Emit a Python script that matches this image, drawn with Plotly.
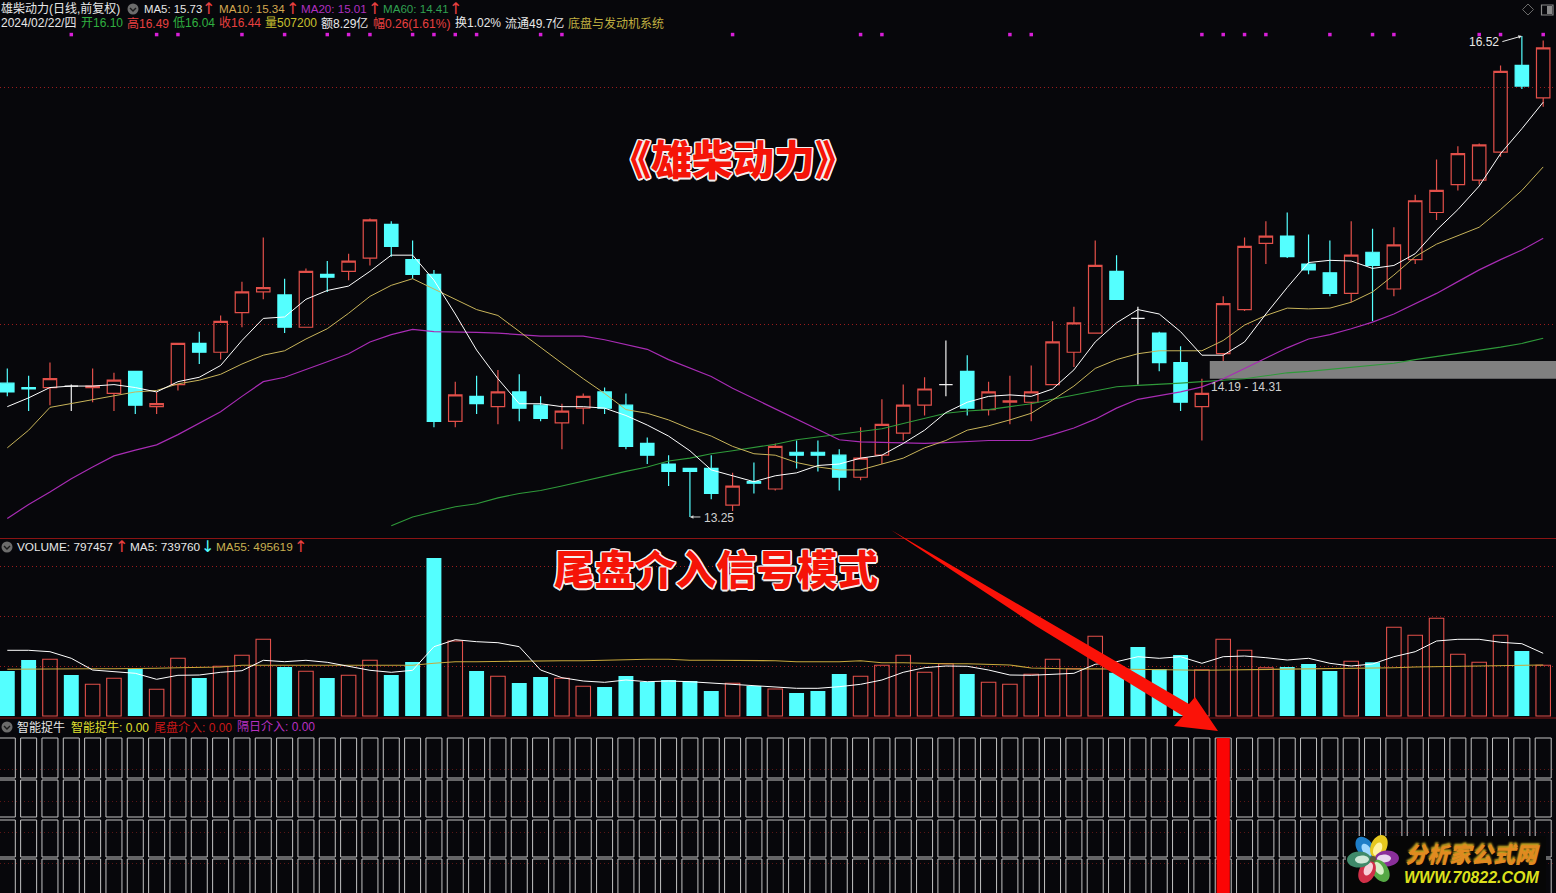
import math
import plotly.graph_objects as go

W, H = 1556, 893
BG = "#07070b"
RED = "#e2504a"
CYAN = "#54ffff"
FONT = "Liberation Sans, Noto Sans CJK SC"
CJK = "Noto Sans CJK SC"

opens = [14.16,14.13,14.13,14.14,14.13,14.09,14.24,14.00,14.15,14.43,14.37,14.64,14.78,14.76,14.54,14.90,14.92,15.01,15.24,15.00,14.90,13.90,14.07,14.00,14.10,
         14.01,13.89,13.99,14.10,14.01,13.75,13.61,13.58,13.58,13.33,13.49,13.44,13.69,13.69,13.67,13.52,13.67,13.82,14.01,14.15,14.24,13.98,14.03,
         14.03,14.15,14.37,14.50,14.92,14.60,14.50,14.30,14.00,14.36,14.66,15.11,15.16,14.97,14.91,14.77,15.05,14.80,15.00,15.32,15.51,15.54,15.73,16.32,16.10]
highs = [14.26,14.21,14.30,14.15,14.26,14.23,14.24,14.10,14.43,14.51,14.62,14.85,15.15,14.87,14.94,14.99,15.04,15.28,15.26,15.13,14.93,14.17,14.21,14.25,14.22,
         14.07,14.02,14.09,14.13,14.09,13.79,13.67,13.58,13.67,13.55,13.62,13.75,13.77,13.77,13.71,13.86,14.05,14.15,14.20,14.45,14.35,14.17,14.21,
         14.28,14.58,14.68,15.13,15.03,14.68,14.51,14.41,14.19,14.75,15.15,15.26,15.32,15.17,15.13,15.26,15.21,15.22,15.44,15.68,15.77,15.79,16.32,16.52,16.49]
lows = [14.07,13.97,14.01,13.97,14.03,13.97,13.95,13.95,14.11,14.29,14.32,14.54,14.73,14.50,14.54,14.78,14.86,14.96,15.02,14.87,13.86,13.86,13.95,13.88,13.90,
        13.90,13.71,13.88,13.95,13.71,13.61,13.46,13.25,13.37,13.29,13.41,13.43,13.58,13.56,13.43,13.50,13.61,13.77,13.94,14.07,13.94,13.94,13.88,
        13.90,14.15,14.27,14.50,14.73,14.15,14.24,13.97,13.77,14.31,14.65,14.97,15.01,14.90,14.75,14.71,14.58,14.75,14.97,15.27,15.47,15.51,15.70,16.16,16.04]
closes = [14.10,14.12,14.19,14.14,14.14,14.18,14.01,14.02,14.43,14.37,14.58,14.78,14.81,14.54,14.92,14.88,14.99,15.27,15.09,14.90,13.90,14.08,14.02,14.10,13.99,
          13.92,13.97,14.07,13.99,13.73,13.67,13.56,13.56,13.41,13.46,13.48,13.73,13.67,13.67,13.52,13.65,13.88,14.01,14.12,14.15,13.99,14.10,14.04,
          14.10,14.44,14.57,14.96,14.73,14.60,14.30,14.03,14.09,14.70,15.09,15.16,15.02,14.93,14.77,15.03,14.96,15.10,15.40,15.47,15.72,15.78,16.28,16.18,16.44]

ma5 = [14.00,14.06,14.13,14.14,14.14,14.15,14.13,14.10,14.17,14.20,14.28,14.45,14.60,14.61,14.73,14.79,14.82,14.92,15.03,15.03,14.86,14.63,14.385,14.19,14.02,
       14.02,14.00,14.00,13.99,13.94,13.875,13.80,13.70,13.57,13.53,13.49,13.53,13.55,13.60,13.61,13.65,13.67,13.75,13.84,13.96,14.03,14.07,14.08,
       14.07,14.12,14.25,14.44,14.57,14.66,14.63,14.51,14.35,14.35,14.44,14.63,14.81,14.98,14.995,14.99,14.94,14.96,15.04,15.20,15.34,15.50,15.72,15.89,16.07]
ma10 = [13.72,13.84,13.995,14.02,14.045,14.07,14.10,14.11,14.155,14.18,14.22,14.29,14.35,14.38,14.46,14.53,14.635,14.75,14.825,14.87,14.80,14.735,14.66,14.62,14.51,
        14.40,14.295,14.19,14.09,13.98,13.955,13.91,13.85,13.80,13.73,13.68,13.67,13.62,13.59,13.57,13.57,13.61,13.65,13.72,13.77,13.84,13.87,13.91,
        13.955,14.045,14.14,14.26,14.32,14.36,14.38,14.38,14.38,14.45,14.555,14.62,14.67,14.665,14.67,14.71,14.78,14.895,15.02,15.105,15.16,15.22,15.34,15.47,15.63]
ma20 = [13.24,13.335,13.42,13.51,13.59,13.665,13.705,13.74,13.81,13.885,13.965,14.07,14.17,14.20,14.25,14.305,14.36,14.44,14.49,14.525,14.51,14.51,14.505,14.50,14.49,
        14.48,14.48,14.48,14.455,14.42,14.39,14.32,14.26,14.205,14.125,14.055,13.99,13.92,13.85,13.775,13.76,13.755,13.75,13.75,13.755,13.765,13.77,13.77,
        13.77,13.81,13.855,13.915,13.99,14.05,14.075,14.10,14.135,14.19,14.26,14.33,14.40,14.46,14.49,14.53,14.575,14.63,14.70,14.77,14.85,14.93,15.00,15.065,15.145]
ma60 = [None]*18 + [13.19,13.25,13.285,13.32,13.34,13.38,13.41,
        13.43,13.46,13.495,13.53,13.56,13.59,13.63,13.65,13.68,13.70,13.72,13.745,13.775,13.795,13.815,13.835,13.85,13.885,13.92,13.955,13.97,13.98,14.00,
        14.02,14.05,14.08,14.11,14.135,14.145,14.15,14.16,14.17,14.18,14.19,14.21,14.23,14.24,14.255,14.27,14.285,14.295,14.32,14.34,14.36,14.38,14.405,14.43,14.465]

# volume, in units of 10 000
volume = [45,56,56.7,41,31.7,37.7,47,26.7,57.7,38,49.7,60.7,76.7,49,44.7,38,40.7,55.7,41,54,158,75,45,39.7,33,
          39,37.7,29.7,29,40,34,36,35,25,32.7,30,27,23,25,42,39.7,50.7,60.7,43.7,52.3,42,33.7,31.7,
          41.7,56.7,47.3,79.7,43.3,69,47,61,46.3,76.7,65.7,48.3,49,52,45,54.7,53.7,88.7,80.7,97.7,61.7,53.7,80.7,65,50.7]
vol_ma5 = [65.7,65.7,64.3,57.7,46,44.3,42.7,36.7,40.7,41,43.7,45.3,55.7,54.3,55.7,53.7,50,45.7,43.7,45.7,69.3,76.3,74.3,73.3,69.3,
           46,38.3,35,33.7,36,34.3,35,34.3,33,32,31,29.3,27.7,27.7,29.3,31.7,36,43.7,48.3,50,49.7,46,41,
           40.7,42,42.7,51.7,54.3,59.3,57.7,59.3,52.7,59.3,60,58.3,56,57.7,52.7,50,52,59.3,64.3,75,76.7,76.7,73.7,72.3,62.7]
vol_ma55 = [46.7,47,47,47.3,47.3,47.3,47.3,47.7,48.3,48.7,49,50.7,50.7,50.7,50.7,50.7,50.7,50.7,50.7,50.7,52.7,54.3,54.3,54.7,55,
            55.3,55.3,55.3,55.7,56.7,56.7,56.7,55.7,55.7,55.7,55.7,55.3,54.3,54.3,54.3,55.3,53.3,53.3,52.7,52.3,52.3,52,51,
            48,47.3,47,47.3,47,46.7,45.7,45.7,45.7,46,46.3,46.3,46.7,47,47.3,47.3,47.7,48.3,49,49.3,49.7,49.7,50,50.7,51]

signal_days = [3,7,8,11,13,15,16,17,19,20,21,22,25,26,34,40,41,47,48,56,57,58,59,62,64,65,69,70,72]
entry_days = [57]
zone_low, zone_high = 14.19, 14.31
price_grid = [16.17, 14.556]
vol_grid = [50, 100, 150]
row_bottoms = [115, 76, 36, -10]
row_tops = [155, 113, 73, 34]
row_grid = [124, 92, 61, 30]
days = list(range(len(closes)))

px = lambda x: x / W
py = lambda y: 1 - y / H

fig = go.Figure()

def candle(idx, colour, fill, w=1.2):
    fig.add_trace(go.Candlestick(
        x=[days[i] for i in idx], open=[opens[i] for i in idx], high=[highs[i] for i in idx],
        low=[lows[i] for i in idx], close=[closes[i] for i in idx],
        increasing=dict(line=dict(color=colour, width=w), fillcolor=fill),
        decreasing=dict(line=dict(color=colour, width=w), fillcolor=fill),
        whiskerwidth=0, showlegend=False, hoverinfo="skip", xaxis="x", yaxis="y"))

candle([i for i in days if closes[i] > opens[i]], RED, "rgba(0,0,0,0)")
candle([i for i in days if closes[i] < opens[i]], CYAN, CYAN)
candle([i for i in days if closes[i] == opens[i]], "#f0f0f0", "#f0f0f0")

for s, c, w in [(ma60, "#2f9a3a", 1.1), (ma20, "#a82cb4", 1.2), (ma10, "#c8b45a", 1.0), (ma5, "#ffffff", 1.0)]:
    fig.add_trace(go.Scatter(x=days, y=s, mode="lines", line=dict(color=c, width=w), showlegend=False,
                             hoverinfo="skip", xaxis="x", yaxis="y"))
fig.add_trace(go.Scatter(x=signal_days, y=[16.53] * len(signal_days), mode="markers",
                         marker=dict(symbol="square", size=3.5, color="#d81fd8", line=dict(width=0)),
                         showlegend=False, hoverinfo="skip", xaxis="x", yaxis="y"))

vol_up = [closes[i] > opens[i] or (closes[i] == opens[i] and i > 0 and closes[i] >= closes[i - 1]) for i in days]
up = [i for i in days if vol_up[i]]
dn = [i for i in days if not vol_up[i]]
fig.add_trace(go.Bar(x=dn, y=[volume[i] for i in dn], width=0.7, marker=dict(color=CYAN, line=dict(width=0)),
                     showlegend=False, hoverinfo="skip", xaxis="x2", yaxis="y2"))
fig.add_trace(go.Bar(x=up, y=[volume[i] for i in up], width=0.68,
                     marker=dict(color="rgba(0,0,0,0)", line=dict(color=RED, width=1.1)),
                     showlegend=False, hoverinfo="skip", xaxis="x2", yaxis="y2"))
fig.add_trace(go.Scatter(x=days, y=vol_ma55, mode="lines", line=dict(color="#c8a83c", width=1.1), showlegend=False,
                         hoverinfo="skip", xaxis="x2", yaxis="y2"))
fig.add_trace(go.Scatter(x=days, y=vol_ma5, mode="lines", line=dict(color="#ffffff", width=1.0), showlegend=False,
                         hoverinfo="skip", xaxis="x2", yaxis="y2"))

for b, t in zip(row_bottoms, row_tops):
    fig.add_trace(go.Bar(x=days, y=[t - b] * len(days), base=[b] * len(days), width=0.75,
                         marker=dict(color="rgba(0,0,0,0)", line=dict(color="#c4c4c4", width=1)),
                         showlegend=False, hoverinfo="skip", xaxis="x3", yaxis="y3"))
fig.add_trace(go.Bar(x=entry_days, y=[165], base=[-10], width=0.62, marker=dict(color="#fb0505", line=dict(width=0)),
                     showlegend=False, hoverinfo="skip", xaxis="x3", yaxis="y3"))

xr = [-0.342, 72.6]
ax = dict(range=xr, visible=False, showgrid=False, zeroline=False)
def yax(rng, dom, ticks, colour="#9a1c1c"):
    return dict(range=rng, domain=dom, showgrid=True, griddash="1px,3px", gridcolor=colour, gridwidth=1,
                tickmode="array", tickvals=ticks, showticklabels=False, ticks="", zeroline=False,
                showline=False, fixedrange=True)

shapes = []
# zone band
shapes.append(dict(type="rect", xref="x", yref="y", x0=56.37, x1=72.6, y0=zone_low, y1=zone_high,
                   fillcolor="#808080", line=dict(width=0), layer="below"))
# panel borders
for y in (538.5, 718):
    shapes.append(dict(type="line", xref="paper", yref="paper", x0=0, x1=1, y0=py(y), y1=py(y),
                       line=dict(color="#8a1414", width=1.2)))

def poly(points):
    return "M" + " L".join(f"{px(x):.5f},{py(y):.5f}" for x, y in points) + " Z"

# big arrow
shapes.append(dict(type="path", xref="paper", yref="paper",
                   path=poly([(891, 530), (1189, 704), (1195, 697), (1218, 731), (1174, 726), (1183, 716), (1036, 626)]),
                   fillcolor="#fb1208", line=dict(width=0)))

# watermark
shapes.append(dict(type="rect", xref="paper", yref="paper", x0=px(1346), x1=px(1546), y0=py(893), y1=py(836),
                   fillcolor="#060606", line=dict(width=0)))

def petal(cx, cy, ang, dist, ln, wd):
    ca, sa = math.cos(ang), math.sin(ang)
    def P(u, v):
        return f"{px(cx + (dist + u) * ca - v * sa):.5f},{py(cy + (dist + u) * sa + v * ca):.5f}"
    k = 0.55
    return (f"M{P(-ln, 0)} C{P(-ln, wd * k)} {P(-ln * k, wd)} {P(0, wd)} C{P(ln * k, wd)} {P(ln, wd * k)} {P(ln, 0)} "
            f"C{P(ln, -wd * k)} {P(ln * k, -wd)} {P(0, -wd)} C{P(-ln * k, -wd)} {P(-ln, -wd * k)} {P(-ln, 0)} Z")

petals = [(-125, "#1e7ec8"), (-65, "#e6c81e"), (-2, "#8a2f9a"), (58, "#55a845"), (115, "#d03048"), (178, "#3f8a6a")]
inner = ["#9fd8ff", "#fff3a0", "#e8d8ee", "#d8f0c8", "#f8d0d8", "#d0e8d8"]
for (deg, col), inn in zip(petals, inner):
    a = math.radians(deg)
    shapes.append(dict(type="path", xref="paper", yref="paper", path=petal(1373, 859, a, 14, 12, 8),
                       fillcolor=col, line=dict(width=0)))
    shapes.append(dict(type="path", xref="paper", yref="paper", path=petal(1373, 859, a, 11, 7, 4),
                       fillcolor=inn, line=dict(width=0)))
shapes.append(dict(type="circle", xref="paper", yref="paper", x0=px(1370), x1=px(1376), y0=py(862), y1=py(856),
                   fillcolor="#5a5a3a", line=dict(width=0)))

# header chevron icons
for cx, cy in [(133, 9), (7, 547), (7, 727)]:
    shapes.append(dict(type="circle", xref="paper", yref="paper", x0=px(cx - 5.5), x1=px(cx + 5.5), y0=py(cy + 5.5), y1=py(cy - 5.5),
                       fillcolor="#6c6c6c", line=dict(width=0)))
    shapes.append(dict(type="path", xref="paper", yref="paper",
                       path=f"M{px(cx-3):.5f},{py(cy-1):.5f} L{px(cx):.5f},{py(cy+2):.5f} L{px(cx+3):.5f},{py(cy-1):.5f}",
                       line=dict(color="#1a1a1a", width=1.4)))
# top right icons
shapes.append(dict(type="path", xref="paper", yref="paper",
                   path=poly([(1528, 4), (1533.5, 9.5), (1528, 15), (1522.5, 9.5)]),
                   line=dict(color="#6a6a6a", width=1)))
shapes.append(dict(type="rect", xref="paper", yref="paper", x0=px(1541.5), x1=px(1553), y0=py(15), y1=py(5),
                   line=dict(color="#8a8a8a", width=1.2)))
shapes.append(dict(type="rect", xref="paper", yref="paper", x0=px(1547), x1=px(1552), y0=py(14), y1=py(6),
                   fillcolor="#8a8a8a", line=dict(width=0)))

anns = []
def txt(x, y, s, color="#e8e8e8", size=12, anchor="left", family=FONT, **font):
    anns.append(dict(xref="paper", yref="paper", x=px(x), y=py(y), text=s, showarrow=False, xanchor=anchor,
                     yanchor="middle", borderpad=0, font=dict(family=family, size=size, color=color, **font)))

WHITE, YEL, RD, GRN = "#e8e8e8", "#d8c848", "#e84040", "#30b040"
ARW = dict(size=16, family="DejaVu Sans")
txt(0, 9, "雄柴动力(日线,前复权)")
txt(143, 9, "MA5: 15.73", size=11.4); txt(201, 8, "↑", RD, **ARW)
txt(218, 9, "MA10: 15.34", "#d4a850", 11.6); txt(285, 8, "↑", RD, **ARW)
txt(300, 9, "MA20: 15.01", "#b030c0", 11.6); txt(367, 8, "↑", RD, **ARW)
txt(382, 9, "MA60: 14.41", "#30a050", 11.6); txt(448, 8, "↑", RD, **ARW)

txt(0, 23, "2024/02/22/四")
txt(80, 23, "开16.10", GRN)
txt(126, 23, "高16.49", RD)
txt(172, 23, "低16.04", GRN)
txt(218, 23, "收16.44", RD)
txt(264, 23, "量507200", "#c8c030")
txt(320, 23, "额8.29亿")
txt(372, 23, "幅0.26(1.61%)", RD)
txt(454, 23, "换1.02%")
txt(504, 23, "流通49.7亿")
txt(567, 23, "底盘与发动机系统", "#c0b040")

txt(16, 547, "VOLUME: 797457", size=11.8); txt(114, 546, "↑", RD, **ARW)
txt(129, 547, "MA5: 739760", size=11.8); txt(200, 546, "↓", CYAN, **ARW)
txt(215, 547, "MA55: 495619", "#c8b050", 11.8); txt(293, 546, "↑", RD, **ARW)

txt(16, 727, "智能捉牛")
txt(70, 727, "智能捉牛: 0.00", "#e0e030")
txt(153, 727, "尾盘介入: 0.00", "#c81818")
txt(236, 727, "隔日介入: 0.00", "#b830c0")

txt(1246, 387, "14.19 - 14.31", "#d0d0d0", 12, "center")
txt(703, 518, "13.25", "#d0d0d0", 12)
txt(1468, 42, "16.52", "#e8e8e8", 12)
anns.append(dict(xref="x", yref="y", x=32, y=13.25, axref="pixel", ayref="pixel", ax=12, ay=0, text="", showarrow=True,
                 arrowhead=2, arrowsize=0.7, arrowwidth=1, arrowcolor="#d0d0d0"))
anns.append(dict(xref="x", yref="y", x=71, y=16.52, ax=-21, ay=6, text="", showarrow=True,
                 arrowhead=2, arrowsize=0.7, arrowwidth=1, arrowcolor="#e8e8e8"))

sh = ",".join(f"{dx}px {dy}px 0 #f4f0f0" for dx, dy in
              [(-1.5, 0), (1.5, 0), (0, -1.5), (0, 1.5), (-1.2, -1.2), (1.2, -1.2), (-1.2, 1.2), (1.2, 1.2)])
txt(733, 157, "《雄柴动力》", "#f51408", 41, "center", CJK, weight=900, shadow=sh)
txt(716, 567, "尾盘介入信号模式", "#f51408", 40.5, "center", CJK, weight=900, shadow=sh)

txt(1472, 853, "<i>分析家公式网</i>", "#e08a20", 22, "center", CJK, weight=900,
    shadow="0 -2px 2px #c8a820")
txt(1472, 877, "<i>WWW.70822.COM</i>", "#dce01c", 16, "center", "Liberation Sans", weight=700)

fig.update_layout(
    width=W, height=H, margin=dict(l=0, r=0, t=0, b=0, pad=0), paper_bgcolor=BG, plot_bgcolor=BG,
    barmode="overlay", boxgap=0.1, boxmode="overlay", showlegend=False, dragmode=False,
    xaxis=dict(ax, anchor="y", rangeslider=dict(visible=False)),
    xaxis2=dict(ax, anchor="y2"),
    xaxis3=dict(ax, anchor="y3"),
    yaxis=yax([13.107, 16.765], [py(538), 1], price_grid),
    yaxis2=yax([-2, 177], [py(718), py(539)], vol_grid),
    yaxis3=yax([0, 174], [0, py(719)], row_grid, "#5a1616"),
    shapes=shapes, annotations=anns,
)
fig.write_html("out.html", config=dict(displayModeBar=False),
               post_script="document.body.style.margin='0';document.body.style.overflow='hidden';document.body.style.background='%s';" % BG)
